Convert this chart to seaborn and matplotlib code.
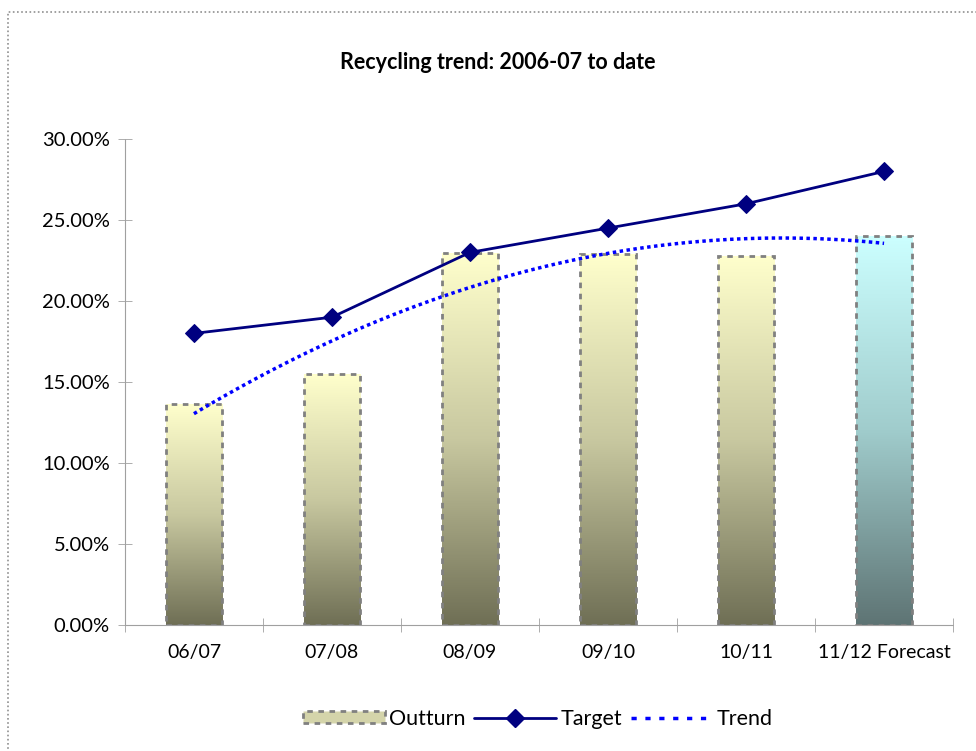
import numpy as np
import pandas as pd
import matplotlib
matplotlib.use("Agg")
import matplotlib.pyplot as plt
import seaborn as sns
from matplotlib.colors import LinearSegmentedColormap
from matplotlib.lines import Line2D
from matplotlib.patches import Patch, Rectangle
from matplotlib.ticker import FuncFormatter, FixedLocator

# data
years = ["06/07", "07/08", "08/09", "09/10", "10/11", "11/12 Forecast"]
outturn = [13.64, 15.49, 22.96, 22.9, 22.78, 24.0]
target = [18.0, 19.0, 23.0, 24.5, 26.0, 28.0]

df = pd.DataFrame({"year": years, "outturn": outturn, "target": target})
df["pos"] = range(len(df))

sns.set_theme(style="white")
plt.rcParams["font.family"] = ["Lato", "DejaVu Sans"]
plt.rcParams["text.color"] = "black"
plt.rcParams["xtick.labelcolor"] = "black"
plt.rcParams["ytick.labelcolor"] = "black"

fig = plt.figure(figsize=(9.76, 7.51), dpi=100)
ax = fig.add_axes([0.128, 0.1678, 0.8485, 0.6471])

sns.barplot(data=df, x="year", y="outturn", width=0.41, ax=ax,
            color="white", edgecolor="none", saturation=1)

# gradient fill for each bar, forecast bar in cyan
yellow = LinearSegmentedColormap.from_list("yel", ["#6f6f55", "#c8c8a0", "#ffffcc"])
cyan = LinearSegmentedColormap.from_list("cy", ["#5e7474", "#a0cccc", "#ccffff"])
grad = np.linspace(0, 1, 256).reshape(-1, 1)
for i, bar in enumerate(ax.patches):
    x0, w, h = bar.get_x(), bar.get_width(), bar.get_height()
    cmap = cyan if i == len(ax.patches) - 1 else yellow
    im = ax.imshow(grad, cmap=cmap, aspect="auto", origin="lower",
                   extent=(x0, x0 + w, 0, h), zorder=2)
    im.set_clip_path(bar)
    bar.set_facecolor("none")
    bar.set_edgecolor("#808080")
    bar.set_linestyle((0, (2, 2)))
    bar.set_linewidth(2)
    bar.set_zorder(3)

sns.lineplot(data=df, x="pos", y="target", color="#000080", lw=2, marker="D",
             markersize=9, markeredgecolor="#000080", ax=ax, zorder=4)
# quadratic trend of the outturn
sns.regplot(data=df, x="pos", y="outturn", order=2, ci=None, scatter=False,
            truncate=True, ax=ax,
            line_kws=dict(color="#0000ff", lw=2.5, ls=(0, (1, 1)), zorder=5))

ax.set_xlim(-0.5, 5.5)
ax.set_ylim(0, 30)
ax.set_yticks(np.arange(0, 31, 5))
ax.yaxis.set_major_formatter(FuncFormatter(lambda v, p: f"{v:.2f}%"))
ax.set_xticks(range(len(years)))
ax.set_xticklabels(years)
ax.xaxis.set_minor_locator(FixedLocator(np.arange(-0.5, 6, 1)))
ax.tick_params(axis="x", which="major", length=0, pad=14, labelsize=14)
ax.tick_params(axis="x", which="minor", direction="inout", length=10,
               width=0.6, color="#a0a0a0", bottom=True)
ax.tick_params(axis="y", direction="inout", length=10, width=0.6,
               color="#a0a0a0", left=True, pad=6, labelsize=14.5)
ax.set_xlabel("")
ax.set_ylabel("")
for s in ["top", "right"]:
    ax.spines[s].set_visible(False)
for s in ["left", "bottom"]:
    ax.spines[s].set_color("#a0a0a0")
    ax.spines[s].set_linewidth(0.8)
    ax.spines[s].set_linestyle((0, (1, 1)))

fig.text(0.51, 0.917, "Recycling trend: 2006-07 to date", ha="center",
         va="center", fontsize=15.5, fontweight="bold")

handles = [
    Patch(facecolor="#d4d4aa", edgecolor="#808080", linestyle=(0, (2, 2)), lw=2),
    Line2D([], [], color="#000080", lw=2, marker="D", markersize=9),
    Line2D([], [], color="#0000ff", lw=2.5, ls=(0, (1.5, 2.5))),
]
fig.legend(handles, ["Outturn", "Target", "Trend"], loc="center",
           bbox_to_anchor=(0.551, 0.043), ncol=3, frameon=False, fontsize=15.5,
           handlelength=3.8, handleheight=0.5, handletextpad=0.2,
           columnspacing=0.4)

fig.patches.append(Rectangle((8 / 976, -0.02), 1.05, 0.02 + (751 - 12) / 751,
                             transform=fig.transFigure, fill=False,
                             edgecolor="#909090", lw=1.2, ls=(0, (1, 1.5))))

fig.savefig("out.png", dpi=100)
